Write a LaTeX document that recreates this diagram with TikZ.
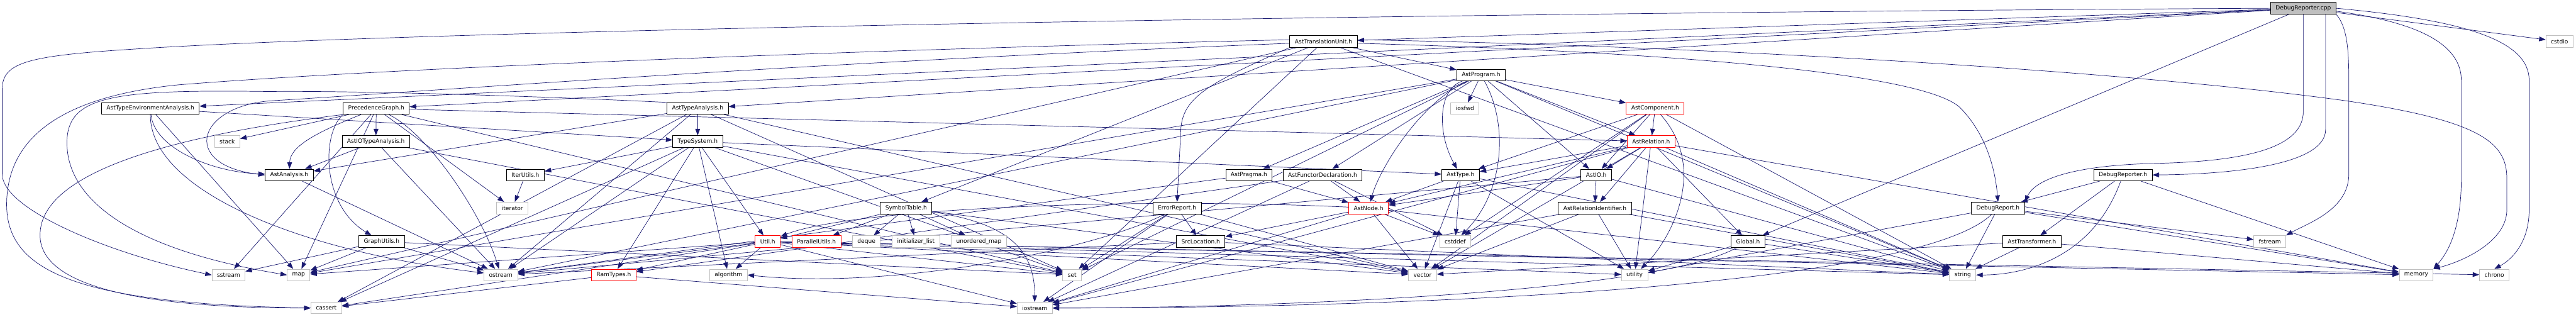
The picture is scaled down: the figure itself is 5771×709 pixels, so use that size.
\documentclass[tikz,border=0pt]{standalone}
\usepackage{fontspec}
\usepackage{tikz}
\usetikzlibrary{arrows.meta, backgrounds}

\newfontfamily\dotfont{DejaVu Sans}
\definecolor{edgeblue}{HTML}{191970}
\definecolor{grey75}{HTML}{BFBFBF}

\begin{document}
\begin{tikzpicture}[x=0.75pt, y=-0.75pt,
        >={Triangle[length=11pt, width=8pt]},
        file/.style={draw=black, fill=white, line width=1pt,
            font=\dotfont\fontsize{9.6pt}{11pt}\selectfont,
            minimum height=19.5pt, inner xsep=8.4pt, inner ysep=0pt},
        sysfile/.style={file, draw=grey75},
        cutfile/.style={file, draw=red},
        rootfile/.style={file, fill=grey75},
        dep/.style={->, draw=edgeblue, line width=0.75pt}]

    \useasboundingbox (0,0) rectangle (5771,709);

    % ====================
    % 1. Files, one row per include depth
    % ====================
    \node[rootfile] (cpp) at (5160, 18.5) {DebugReporter.cpp};

    \node[file]    (tu)     at (2965, 93) {AstTranslationUnit.h};
    \node[sysfile] (cstdio) at (5734, 93) {cstdio};

    \node[file] (prog) at (3318, 168) {AstProgram.h};

    \node[file]    (tea)    at (337, 243)  {AstTypeEnvironmentAnalysis.h};
    \node[file]    (pg)     at (843, 243)  {PrecedenceGraph.h};
    \node[file]    (ta)     at (1563, 243) {AstTypeAnalysis.h};
    \node[sysfile] (iosfwd) at (3282, 243) {iosfwd};
    \node[cutfile] (comp)   at (3708, 243) {AstComponent.h};

    \node[sysfile] (stack) at (509, 317)  {stack};
    \node[file]    (ioa)   at (842, 317)  {AstIOTypeAnalysis.h};
    \node[file]    (ts)    at (1563, 317) {TypeSystem.h};
    \node[cutfile] (rel)   at (3699, 317) {AstRelation.h};

    \node[file] (ana)    at (648, 392)  {AstAnalysis.h};
    \node[file] (iter)   at (1177, 392) {IterUtils.h};
    \node[file] (pragma) at (2798, 392) {AstPragma.h};
    \node[file] (fdecl)  at (2963, 392) {AstFunctorDeclaration.h};
    \node[file] (type)   at (3272, 392) {AstType.h};
    \node[file] (io)     at (3576, 392) {AstIO.h};
    \node[file] (dbgh)   at (4756, 392) {DebugReporter.h};

    \node[sysfile] (iterator) at (1148, 466) {iterator};
    \node[file]    (symtab)   at (2030, 466) {SymbolTable.h};
    \node[file]    (err)      at (2637, 466) {ErrorReport.h};
    \node[cutfile] (anode)    at (3066, 466) {AstNode.h};
    \node[file]    (relid)    at (3573, 466) {AstRelationIdentifier.h};
    \node[file]    (dbgrep)   at (4476, 466) {DebugReport.h};

    \node[file]    (gutil)    at (855, 541)  {GraphUtils.h};
    \node[cutfile] (util)     at (1720, 541) {Util.h};
    \node[cutfile] (par)      at (1829, 541) {ParallelUtils.h};
    \node[sysfile] (deque)    at (1941, 541) {deque};
    \node[sysfile] (initlist) at (2052, 541) {initializer\_list};
    \node[sysfile] (umap)     at (2193, 541) {unordered\_map};
    \node[file]    (srcloc)   at (2690, 541) {SrcLocation.h};
    \node[sysfile] (cstddef)  at (3260, 541) {cstddef};
    \node[file]    (global)   at (3916, 541) {Global.h};
    \node[file]    (trans)    at (4552, 541) {AstTransformer.h};
    \node[sysfile] (fstream)  at (5085, 541) {fstream};

    \node[sysfile] (sstream)   at (512, 616)  {sstream};
    \node[sysfile] (map)       at (669, 616)  {map};
    \node[sysfile] (ostream)   at (1122, 616) {ostream};
    \node[cutfile] (ramty)     at (1375, 616) {RamTypes.h};
    \node[sysfile] (algorithm) at (1632, 616) {algorithm};
    \node[sysfile] (set)       at (2402, 616) {set};
    \node[sysfile] (vector)    at (3187, 616) {vector};
    \node[sysfile] (utility)   at (3662, 616) {utility};
    \node[sysfile] (string)    at (4397, 616) {string};
    \node[sysfile] (memory)    at (5413, 616) {memory};
    \node[sysfile] (chrono)    at (5588, 616) {chrono};

    \node[sysfile] (cassert)  at (731, 690)  {cassert};
    \node[sysfile] (iostream) at (2318, 690) {iostream};

    % ====================
    % 2. Includes, behind the boxes
    % ====================
    \begin{scope}[on background layer]

        % DebugReporter.cpp
        \foreach \dst in {tu, tea, pg, ta, cstdio, global} {
            \draw[dep] (cpp) -- (\dst);
        }
        \draw[dep] (cpp.west) .. controls (3000,30) and (900,70) .. (300,110)
            .. controls (60,125) and (5,140) .. (5,200) -- (5,390)
            .. controls (5,470) and (250,570) .. (sstream.west);
        \draw[dep] ([xshift=37.5pt]cpp.south) -- (5210,290)
            .. controls (5210,370) and (5000,390) .. (dbgh.east);
        \draw[dep] (cpp.south) -- (5160,250)
            .. controls (5160,340) and (5000,362) .. (4830,366)
            .. controls (4650,370) and (4560,400) .. (dbgrep.north east);
        \draw[dep] (cpp.south east) .. controls (5258,60) and (5262,110) .. (5262,180)
            -- (5262,390) .. controls (5262,470) and (5170,500) .. (fstream.north east);
        \draw[dep] ([yshift=-5pt]cpp.east) .. controls (5420,50) and (5514,100) .. (5514,180)
            -- (5514,400) .. controls (5514,520) and (5480,570) .. (memory.north east);
        \draw[dep] (cpp.east) .. controls (5520,45) and (5666,90) .. (5666,180)
            -- (5666,470) .. controls (5666,540) and (5630,580) .. (chrono.north);

        % AstTranslationUnit.h
        \foreach \dst in {prog, symtab, map, string, set} {
            \draw[dep] (tu) -- (\dst);
        }
        \draw[dep] (tu.south west) .. controls (2700,190) and (2645,220) .. (2645,300)
            -- (err.north);
        \draw[dep] ([yshift=-3pt]tu.east) .. controls (3700,115) and (4300,160) .. (4390,240)
            .. controls (4450,300) and (4470,380) .. (dbgrep.north);
        \draw[dep] ([yshift=3pt]tu.east) .. controls (3700,100) and (4700,150) .. (5250,225)
            .. controls (5560,270) and (5616,320) .. (5616,400) -- (5616,470)
            .. controls (5616,540) and (5520,585) .. (memory.north east);
        \draw[dep] ([yshift=3pt]tu.west) .. controls (2000,110) and (900,150) .. (400,190)
            .. controls (150,215) and (20,300) .. (15,450)
            .. controls (10,600) and (150,680) .. (cassert.west);
        \draw[dep] ([yshift=-3pt]tu.west) .. controls (1800,140) and (950,205) .. (620,225)
            .. controls (440,232) and (400,370) .. (ana.west);

        % AstProgram.h
        \foreach \dst in {iosfwd, fdecl, pragma, comp, rel, io, map, set, string, ostream} {
            \draw[dep] (prog) -- (\dst);
        }
        \draw[dep] (prog) .. controls (3220,200) and (3220,300) .. (type);
        \draw[dep] (prog) .. controls (3180,230) and (3090,380) .. (anode);
        \draw[dep] (prog) .. controls (3380,280) and (3370,430) .. (cstddef);

        % AstTypeEnvironmentAnalysis.h
        \foreach \dst in {ts, map} {
            \draw[dep] (tea) -- (\dst);
        }
        \draw[dep] (tea) .. controls (345,330) and (470,385) .. (ana);
        \draw[dep] (tea) .. controls (335,420) and (650,560) .. (ostream);

        % PrecedenceGraph.h
        \foreach \dst in {ioa, stack, iterator, rel, map, set, sstream} {
            \draw[dep] (pg) -- (\dst);
        }
        \draw[dep] (pg) .. controls (700,300) and (650,330) .. (ana);
        \draw[dep] (pg.south west) .. controls (720,300) and (720,460) .. (gutil);
        \draw[dep] (pg) .. controls (960,300) and (1080,480) .. (ostream);
        \draw[dep] (pg.south west) .. controls (500,290) and (100,360) .. (90,520)
            .. controls (80,650) and (350,690) .. (cassert.west);

        % AstTypeAnalysis.h
        \foreach \dst in {ts, ana, set, ostream, cassert, vector} {
            \draw[dep] (ta) -- (\dst);
        }
        \draw[dep] (ta.north west) .. controls (1200,215) and (800,203) .. (600,205)
            .. controls (250,200) and (150,215) .. (150,320)
            .. controls (150,450) and (300,560) .. (map.west);

        % AstIOTypeAnalysis.h, AstAnalysis.h, IterUtils.h
        \foreach \dst in {ana, set, ostream} {
            \draw[dep] (ioa) -- (\dst);
        }
        \draw[dep] (ana) -- (ostream);
        \draw[dep] (iter) -- (iterator);

        % TypeSystem.h
        \foreach \dst in {iter, util, algorithm, type, ramty, cassert, set, vector, ostream} {
            \draw[dep] (ts) -- (\dst);
        }

        % AstPragma.h, AstFunctorDeclaration.h, AstType.h, AstIO.h
        \foreach \dst in {anode, ostream} {
            \draw[dep] (pragma) -- (\dst);
        }
        \foreach \dst in {anode, ramty, iostream, cstddef} {
            \draw[dep] (fdecl) -- (\dst);
        }
        \foreach \dst in {anode, vector, cstddef, string, utility} {
            \draw[dep] (type) -- (\dst);
        }
        \foreach \dst in {relid, anode, ostream, string} {
            \draw[dep] (io) -- (\dst);
        }

        % AstComponent.h, AstRelation.h
        \foreach \dst in {io, rel, type, cstddef, string, vector} {
            \draw[dep] (comp) -- (\dst);
        }
        \draw[dep] (comp) .. controls (3830,380) and (3740,540) .. (utility);
        \foreach \dst in {io, relid, global, type, anode, memory, string, vector, utility, iostream} {
            \draw[dep] (rel) -- (\dst);
        }

        % DebugReporter.h
        \foreach \dst in {dbgrep, trans, memory} {
            \draw[dep] (dbgh) -- (\dst);
        }
        \draw[dep] (dbgh) .. controls (4680,600) and (4500,616) .. (string);

        % ErrorReport.h, SymbolTable.h, AstNode.h, AstRelationIdentifier.h, DebugReport.h
        \foreach \dst in {srcloc, set, iostream, vector} {
            \draw[dep] (err) -- (\dst);
        }
        \draw[dep] (err) .. controls (2450,560) and (2000,650) .. (algorithm.east);
        \foreach \dst in {par, deque, initlist, umap, util, vector} {
            \draw[dep] (symtab) -- (\dst);
        }
        \draw[dep] (symtab) .. controls (2260,500) and (2318,560) .. (iostream);
        \foreach \dst in {srcloc, cstddef, iostream, string, vector} {
            \draw[dep] (anode) -- (\dst);
        }
        \draw[dep] (anode) .. controls (2500,440) and (1900,470) .. (util);
        \foreach \dst in {utility, string, vector, iostream} {
            \draw[dep] (relid) -- (\dst);
        }
        \foreach \dst in {string, fstream, memory, utility} {
            \draw[dep] (dbgrep) -- (\dst);
        }
        \draw[dep] (dbgrep) .. controls (4300,640) and (3200,690) .. (iostream.east);

        % GraphUtils.h, Util.h and the rest of the last rows
        \foreach \dst in {map, ostream, sstream, set} {
            \draw[dep] (gutil) -- (\dst);
        }
        \foreach \dst in {ramty, algorithm, cassert, iostream, map, set, ostream,
                          vector, string, utility, memory, chrono} {
            \draw[dep] (util) -- (\dst);
        }
        \foreach \dst in {ostream, string} {
            \draw[dep] (srcloc) -- (\dst);
        }
        \foreach \dst in {cassert, iostream} {
            \draw[dep] (ramty) -- (\dst);
        }
        \foreach \dst in {string, utility} {
            \draw[dep] (global) -- (\dst);
        }
        \draw[dep] (global) .. controls (3700,660) and (2800,690) .. (iostream.east);
        \foreach \dst in {string, memory, vector} {
            \draw[dep] (trans) -- (\dst);
        }
    \end{scope}

\end{tikzpicture}
\end{document}
